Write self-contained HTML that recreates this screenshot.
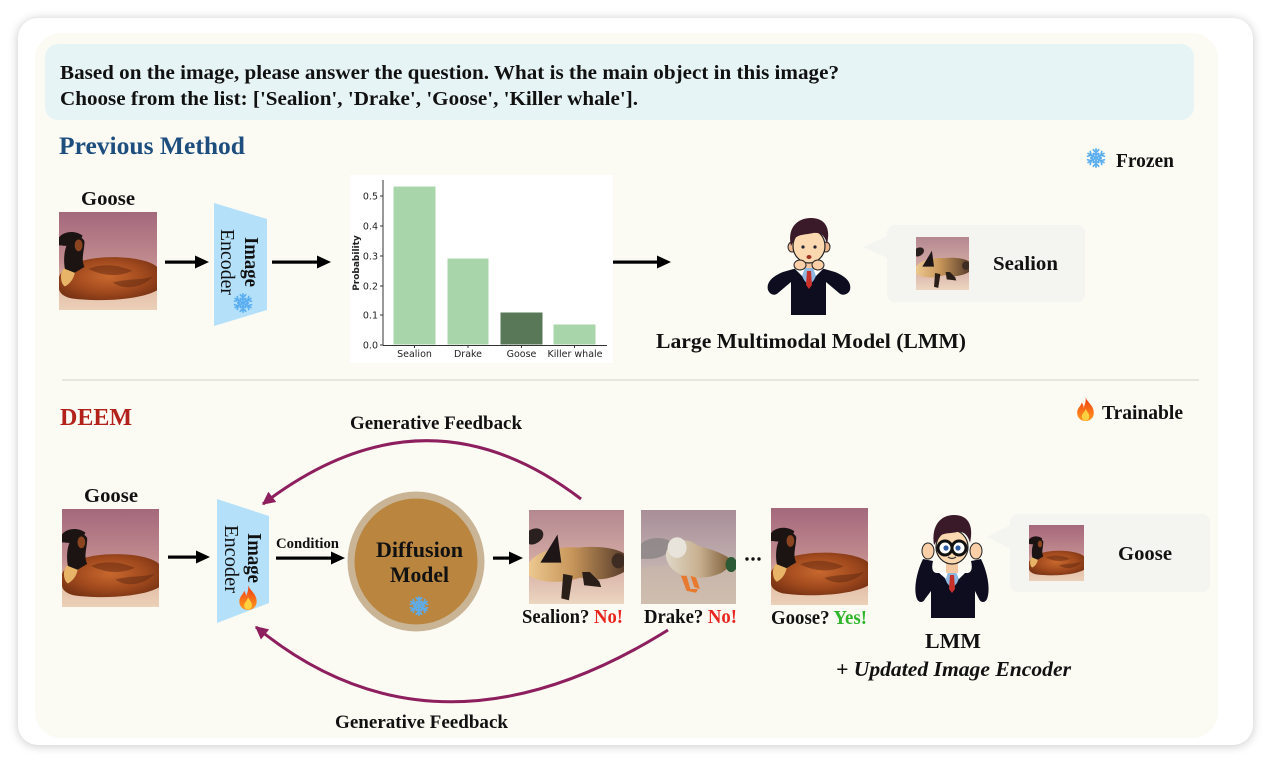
<!DOCTYPE html>
<html><head><meta charset="utf-8"><style>
html,body{margin:0;padding:0;background:#fff;}
body{width:1271px;height:763px;overflow:hidden;position:relative;}
.card{position:absolute;left:18px;top:18px;width:1235px;height:727px;background:#fff;border-radius:20px;box-shadow:0 1px 10px rgba(0,0,0,0.22);}
.cream{position:absolute;left:35px;top:33px;width:1183px;height:705px;background:#fbfbf4;border-radius:26px;}
svg{position:absolute;left:0;top:0;}
.t{font-family:"Liberation Serif",serif;font-weight:bold;fill:#111;}
.c{font-family:"DejaVu Sans",sans-serif;fill:#222;}
</style></head><body>
<div class="card"></div>
<div class="cream"></div>
<svg width="1271" height="763" viewBox="0 0 1271 763" xmlns="http://www.w3.org/2000/svg">
<defs>
  <linearGradient id="gbg" x1="0" y1="0" x2="0" y2="1">
    <stop offset="0" stop-color="#a4687c"/><stop offset="0.5" stop-color="#c08a8e"/><stop offset="0.75" stop-color="#e2bca6"/><stop offset="1" stop-color="#ecd0b8"/>
  </linearGradient>
  <radialGradient id="gbody" cx="0.5" cy="0.45" r="0.6">
    <stop offset="0" stop-color="#c8682e"/><stop offset="0.6" stop-color="#a24a1e"/><stop offset="1" stop-color="#7a3414"/>
  </radialGradient>
  <linearGradient id="sbg" x1="0" y1="0" x2="0" y2="1">
    <stop offset="0" stop-color="#b48890"/><stop offset="0.55" stop-color="#d4aaa4"/><stop offset="1" stop-color="#ecd6c0"/>
  </linearGradient>
  <linearGradient id="sbody" x1="0" y1="0" x2="1" y2="0">
    <stop offset="0" stop-color="#ecc890"/><stop offset="0.45" stop-color="#c8965a"/><stop offset="1" stop-color="#5a3e2c"/>
  </linearGradient>
  <linearGradient id="dbg" x1="0" y1="0" x2="0" y2="1">
    <stop offset="0" stop-color="#a88e98"/><stop offset="0.55" stop-color="#c0aeae"/><stop offset="1" stop-color="#d8c8b8"/>
  </linearGradient>
  <linearGradient id="dbody" x1="0" y1="0" x2="1" y2="0">
    <stop offset="0" stop-color="#e0d8c8"/><stop offset="0.5" stop-color="#c8b090"/><stop offset="1" stop-color="#7a5a34"/>
  </linearGradient>
  <linearGradient id="fire" x1="0" y1="0" x2="0" y2="1">
    <stop offset="0" stop-color="#f03a10"/><stop offset="1" stop-color="#ff9a20"/>
  </linearGradient>

  <symbol id="goose" viewBox="0 0 100 100" preserveAspectRatio="none">
    <rect width="100" height="100" fill="url(#gbg)"/>
    <path d="M0 66 C6 52 30 46 55 46 C75 46 94 50 100 56 L100 80 C82 90 40 92 12 88 C4 86 0 82 0 78 Z" fill="url(#gbody)"/>
    <path d="M30 58 C45 52 60 54 75 60 C62 66 46 66 30 58 Z" fill="#6a2c10" opacity="0.55"/>
    <path d="M55 72 C68 68 82 70 96 66 C84 78 66 80 55 72 Z" fill="#5e2810" opacity="0.5"/>
    <path d="M2 66 C2 58 8 54 16 54 C18 62 14 72 6 76 C3 74 2 70 2 66 Z" fill="#e8b468"/>
    <path d="M6 58 C4 46 6 36 10 30 C14 24 24 24 26 30 C26 40 22 48 26 56 L16 62 Z" fill="#1c1412"/>
    <path d="M0 26 C4 20 16 18 24 24 C22 32 12 36 2 34 L0 34 Z" fill="#1c1412"/>
    <ellipse cx="20" cy="34" rx="4" ry="6" fill="#8a4420"/>
  </symbol>

  <symbol id="sealion" viewBox="0 0 100 100" preserveAspectRatio="none">
    <rect width="100" height="100" fill="url(#sbg)"/>
    <path d="M0 56 C8 44 30 38 52 40 C72 38 90 40 100 46 L100 66 C86 74 70 76 54 72 C36 78 16 78 4 72 L0 70 Z" fill="url(#sbody)"/>
    <path d="M0 22 C10 16 18 22 14 30 C10 36 2 38 0 36 Z" fill="#2a2020"/>
    <path d="M12 56 L30 26 L34 56 Z" fill="#1e1616"/>
    <path d="M36 68 L34 94 L42 96 L46 70 Z" fill="#2a1e18"/>
    <path d="M56 66 L58 80 L76 82 L74 76 L64 66 Z" fill="#2a1e18"/>
    <ellipse cx="94" cy="54" rx="7" ry="8" fill="#3e2c22"/>
  </symbol>

  <symbol id="drake" viewBox="0 0 100 100" preserveAspectRatio="none">
    <rect width="100" height="100" fill="url(#dbg)"/>
    <path d="M0 62 C20 58 60 58 100 64 L100 100 L0 100 Z" fill="#cab8a8" opacity="0.6"/>
    <path d="M0 36 C8 28 24 28 32 34 C34 46 20 52 8 52 L0 52 Z" fill="#8a8484" opacity="0.8"/>
    <path d="M26 48 C28 30 48 28 60 38 C74 42 88 46 96 54 C92 66 78 72 60 72 C42 72 28 64 26 48 Z" fill="url(#dbody)"/>
    <ellipse cx="38" cy="40" rx="10" ry="11" fill="#e8e4dc"/>
    <ellipse cx="95" cy="58" rx="6" ry="8" fill="#2c5a34"/>
    <path d="M42 70 L48 86 L58 88 L60 84 L52 84 L48 70 Z" fill="#e87a30"/>
    <path d="M52 70 L56 82 L62 84 L58 72 Z" fill="#e87a30"/>
  </symbol>

  <symbol id="snow" viewBox="-12 -12 24 24">
    <g stroke="#5aaef0" stroke-width="1.8" fill="none" stroke-linecap="round">
      <g id="arm"><line x1="0" y1="0" x2="0" y2="-10"/><polyline points="-3,-9 0,-6 3,-9"/><polyline points="-2.5,-5 0,-3 2.5,-5"/></g>
      <use href="#arm" transform="rotate(60)"/><use href="#arm" transform="rotate(120)"/><use href="#arm" transform="rotate(180)"/><use href="#arm" transform="rotate(240)"/><use href="#arm" transform="rotate(300)"/>
    </g>
  </symbol>

  <symbol id="flame" viewBox="0 0 20 26">
    <path d="M10 0 C12 6 19 9 19 17 C19 22.5 15 26 10 26 C5 26 1 22.5 1 17 C1 12 5 10 6 6 C8 9 8 11 8 12 C9 8 11 5 10 0 Z" fill="url(#fire)"/>
    <path d="M10 13 C12 16 14 18 14 21 C14 24 12 25.5 10 25.5 C8 25.5 6 24 6 21 C6 18 9 17 10 13 Z" fill="#ffd040"/>
  </symbol>

  <marker id="pa" viewBox="0 0 10 10" refX="9" refY="5" markerUnits="userSpaceOnUse" markerWidth="14" markerHeight="13" orient="auto">
    <path d="M0 0 L10 5 L0 10 Z" fill="#8e1f5e"/>
  </marker>
</defs>

<!-- question box -->
<rect x="45" y="44" width="1149" height="76" rx="13" fill="#e7f4f5"/>
<text class="t" x="60" y="79" font-size="19.5" textLength="779" lengthAdjust="spacingAndGlyphs">Based on the image, please answer the question. What is the main object in this image?</text>
<text class="t" x="60" y="105" font-size="19.5" textLength="578" lengthAdjust="spacingAndGlyphs">Choose from the list: ['Sealion', 'Drake', 'Goose', 'Killer whale'].</text>

<!-- Previous Method -->
<text class="t" x="59" y="154" font-size="25" style="fill:#1d4e7e" textLength="186" lengthAdjust="spacingAndGlyphs">Previous Method</text>
<use href="#snow" x="1085" y="147" width="22" height="22"/>
<text class="t" x="1116" y="167" font-size="20" textLength="58" lengthAdjust="spacingAndGlyphs">Frozen</text>

<text class="t" x="81" y="205" font-size="20" textLength="54" lengthAdjust="spacingAndGlyphs">Goose</text>
<use href="#goose" x="59" y="212" width="98" height="98"/>

<!-- arrows top -->
<g fill="#000">
  <rect x="165" y="260.5" width="32" height="3.2"/><polygon points="195,255.5 209,262 195,268.5"/>
  <rect x="272" y="260.5" width="47" height="3.2"/><polygon points="317,255.5 331,262 317,268.5"/>
  <rect x="611" y="260.5" width="48" height="3.2"/><polygon points="657,255.5 671,262 657,268.5"/>
</g>

<!-- encoder 1 -->
<polygon points="214,203 267,219 267,310 214,326" fill="#b4e0fa"/>
<text class="t" font-size="20" transform="translate(245,237) rotate(90)" textLength="50" lengthAdjust="spacingAndGlyphs">Image</text>
<text class="t" style="font-weight:normal" font-size="20" transform="translate(221,229) rotate(90)" textLength="66" lengthAdjust="spacingAndGlyphs">Encoder</text>
<use href="#snow" x="232" y="292" width="22" height="22"/>

<!-- chart -->
<rect x="350" y="175" width="263" height="188" fill="#ffffff"/>
<g stroke="#ffffff" stroke-width="1">
<rect x="393" y="186" width="43" height="159" fill="#a8d5a9"/>
<rect x="447" y="258" width="42" height="87" fill="#a8d5a9"/>
<rect x="500" y="312" width="43" height="33" fill="#587858"/>
<rect x="553" y="324" width="43" height="21" fill="#a8d5a9"/>
</g>
<g stroke="#333" stroke-width="1">
  <line x1="383" y1="180" x2="383" y2="345.5"/>
  <line x1="383" y1="345.5" x2="607" y2="345.5"/>
  <line x1="380" y1="345" x2="383" y2="345"/><line x1="380" y1="315" x2="383" y2="315"/><line x1="380" y1="286" x2="383" y2="286"/><line x1="380" y1="256" x2="383" y2="256"/><line x1="380" y1="226" x2="383" y2="226"/><line x1="380" y1="196" x2="383" y2="196"/>
  <line x1="414.5" y1="345" x2="414.5" y2="348"/><line x1="468" y1="345" x2="468" y2="348"/><line x1="521.5" y1="345" x2="521.5" y2="348"/><line x1="574.5" y1="345" x2="574.5" y2="348"/>
</g>
<g class="c" font-size="9.5" text-anchor="end">
  <text x="378" y="348.5">0.0</text><text x="378" y="318.5">0.1</text><text x="378" y="289.5">0.2</text><text x="378" y="259.5">0.3</text><text x="378" y="229.5">0.4</text><text x="378" y="199.5">0.5</text>
</g>
<text class="c" font-size="9" font-weight="bold" text-anchor="middle" transform="translate(359,263) rotate(-90)">Probability</text>
<g class="c" font-size="9.5" text-anchor="middle">
  <text x="414.5" y="357">Sealion</text><text x="468" y="357">Drake</text><text x="521.5" y="357">Goose</text><text x="575" y="357">Killer whale</text>
</g>

<!-- person 1 -->
<g transform="translate(767,218)">
  <path d="M1 72 C-1 64 6 58 16 54 L30 50 L54 50 L68 54 C78 58 85 64 83 72 C81 77 75 78 72 75 L59 64 L59 97 L24 97 L24 64 L11 75 C8 78 3 77 1 72 Z" fill="#0d0d1f"/>
  <rect x="36" y="40" width="12" height="12" fill="#f4c8a0"/>
  <path d="M31 50 L53 50 L47 62 L42 68 L37 62 Z" fill="#8fb8e0"/>
  <path d="M27 50 L38 50 L35 58 Z" fill="#fff"/><path d="M46 50 L57 50 L49 58 Z" fill="#fff"/>
  <path d="M40 53 L44 53 L45 67 L42 71 L39 67 Z" fill="#c8302a"/>
  <ellipse cx="25" cy="29" rx="4" ry="5" fill="#f0b890" stroke="#222" stroke-width="1"/>
  <ellipse cx="59" cy="29" rx="4" ry="5" fill="#f0b890" stroke="#222" stroke-width="1"/>
  <ellipse cx="42" cy="28" rx="16" ry="17" fill="#fbd8b0" stroke="#222" stroke-width="1.2"/>
  <path d="M24 28 C20 10 30 0 44 0 C58 0 64 10 60 26 C58 18 54 14 46 15 C38 17 30 16 27 22 Z" fill="#3a1a28"/>
  <circle cx="36" cy="29" r="1.6" fill="#223"/><circle cx="48" cy="29" r="1.6" fill="#223"/>
  <ellipse cx="42" cy="39" rx="2.5" ry="2" fill="#a03020"/>
  <ellipse cx="33" cy="47" rx="6" ry="5" fill="#fbd0a8" stroke="#222" stroke-width="1"/>
  <ellipse cx="51" cy="47" rx="6" ry="5" fill="#fbd0a8" stroke="#222" stroke-width="1"/>
</g>
<text class="t" x="656" y="348" font-size="21" textLength="310" lengthAdjust="spacingAndGlyphs">Large Multimodal Model (LMM)</text>

<!-- bubble 1 -->
<polygon points="863,247 888,236 888,258" fill="#f4f4f0"/>
<rect x="887" y="225" width="198" height="77" rx="8" fill="#f4f4f0"/>
<use href="#sealion" x="916" y="237" width="53" height="53"/>
<text class="t" x="993" y="270" font-size="20" textLength="65" lengthAdjust="spacingAndGlyphs">Sealion</text>

<!-- divider -->
<rect x="62" y="379" width="1137" height="2" fill="#e6e6e1"/>

<!-- DEEM -->
<text class="t" x="60" y="425" font-size="24.5" style="fill:#b3221a" textLength="72" lengthAdjust="spacingAndGlyphs">DEEM</text>
<use href="#flame" x="1076" y="397" width="19" height="24"/>
<text class="t" x="1102" y="419" font-size="20" textLength="81" lengthAdjust="spacingAndGlyphs">Trainable</text>

<text class="t" x="350" y="429" font-size="18.5" textLength="172" lengthAdjust="spacingAndGlyphs">Generative Feedback</text>
<text class="t" x="335" y="728" font-size="18.5" textLength="173" lengthAdjust="spacingAndGlyphs">Generative Feedback</text>

<!-- purple arcs -->
<path d="M581 499 Q425 380 263 504" fill="none" stroke="#8e1f5e" stroke-width="3" marker-end="url(#pa)"/>
<path d="M668 630 Q436 775 256 627" fill="none" stroke="#8e1f5e" stroke-width="3" marker-end="url(#pa)"/>

<text class="t" x="84" y="502" font-size="20" textLength="54" lengthAdjust="spacingAndGlyphs">Goose</text>
<use href="#goose" x="62" y="509" width="97" height="98"/>

<g fill="#000">
  <rect x="168" y="555.5" width="30" height="3.2"/><polygon points="196,550.5 210,557 196,563.5"/>
  <rect x="276" y="556.5" width="57" height="3.2"/><polygon points="331,551.5 345,558 331,564.5"/>
  <rect x="493" y="556.5" width="18" height="3.2"/><polygon points="509,551.5 523,558 509,564.5"/>
</g>

<!-- encoder 2 -->
<polygon points="217,499 269,516 269,603 217,623" fill="#b4e0fa"/>
<text class="t" font-size="20" transform="translate(248,533) rotate(90)" textLength="50" lengthAdjust="spacingAndGlyphs">Image</text>
<text class="t" style="font-weight:normal" font-size="20" transform="translate(225,525) rotate(90)" textLength="68" lengthAdjust="spacingAndGlyphs">Encoder</text>
<use href="#flame" x="238" y="585" width="20" height="25"/>

<text class="t" x="276" y="548" font-size="14.5" textLength="63" lengthAdjust="spacingAndGlyphs">Condition</text>

<!-- diffusion -->
<ellipse cx="416" cy="561.5" rx="68.5" ry="70" fill="#c9b596"/>
<ellipse cx="416" cy="561.5" rx="61.5" ry="63" fill="#b9853f"/>
<text class="t" x="376" y="557" font-size="22" textLength="87" lengthAdjust="spacingAndGlyphs">Diffusion</text>
<text class="t" x="390" y="582" font-size="22" textLength="59" lengthAdjust="spacingAndGlyphs">Model</text>
<use href="#snow" x="408" y="595" width="22" height="22"/>

<!-- generated images -->
<use href="#sealion" x="529" y="510" width="95" height="94"/>
<use href="#drake" x="641" y="510" width="95" height="94"/>
<use href="#goose" x="771" y="508" width="97" height="97"/>
<circle cx="747" cy="559" r="1.7" fill="#111"/><circle cx="753" cy="559" r="1.7" fill="#111"/><circle cx="759" cy="559" r="1.7" fill="#111"/>

<text class="t" x="522" y="623" font-size="20" textLength="101" lengthAdjust="spacingAndGlyphs">Sealion? <tspan style="fill:#e8261e">No!</tspan></text>
<text class="t" x="644" y="623" font-size="20" textLength="93" lengthAdjust="spacingAndGlyphs">Drake? <tspan style="fill:#e8261e">No!</tspan></text>
<text class="t" x="771" y="624" font-size="20" textLength="96" lengthAdjust="spacingAndGlyphs">Goose? <tspan style="fill:#2eb52a">Yes!</tspan></text>

<!-- person 2 -->
<g transform="translate(913,515)">
  <path d="M4 84 C0 74 4 56 10 44 L20 46 C18 54 20 58 24 58 L54 58 C58 58 60 54 58 46 L68 44 C74 56 78 74 74 84 C72 88 68 88 66 84 L62 76 L62 103 L18 103 L18 76 L12 84 C10 88 6 88 4 84 Z" fill="#0d0d1f"/>
  <path d="M29 57 L49 57 L44 68 L39 74 L34 68 Z" fill="#8fb8e0"/>
  <path d="M25 57 L35 57 L33 64 Z" fill="#fff"/><path d="M43 57 L53 57 L46 64 Z" fill="#fff"/>
  <path d="M37 60 L41 60 L42 74 L39 78 L36 74 Z" fill="#c8302a"/>
  <rect x="33" y="46" width="12" height="12" fill="#f4c8a0"/>
  <ellipse cx="39" cy="32" rx="16" ry="17" fill="#fbd8b0" stroke="#222" stroke-width="1.2"/>
  <path d="M21 30 C18 10 28 0 41 0 C55 0 61 10 57 28 C55 20 51 16 44 17 C36 19 28 17 25 24 Z" fill="#3a1a28"/>
  <circle cx="32" cy="33" r="7" fill="#fff" stroke="#111" stroke-width="3"/>
  <circle cx="46" cy="33" r="7" fill="#fff" stroke="#111" stroke-width="3"/>
  <circle cx="33" cy="33" r="2.6" fill="#2a5aa0"/><circle cx="45" cy="33" r="2.6" fill="#2a5aa0"/>
  <path d="M35 42 Q39 45 43 42" stroke="#333" stroke-width="1.2" fill="none"/>
  <ellipse cx="15" cy="36" rx="6" ry="8" fill="#fbd0a8" stroke="#222" stroke-width="1"/>
  <ellipse cx="63" cy="36" rx="6" ry="8" fill="#fbd0a8" stroke="#222" stroke-width="1"/>
</g>
<text class="t" x="925" y="648" font-size="21" textLength="56" lengthAdjust="spacingAndGlyphs">LMM</text>
<text class="t" x="836" y="676" font-size="21" font-style="italic" textLength="235" lengthAdjust="spacingAndGlyphs">+ Updated Image Encoder</text>

<!-- bubble 2 -->
<polygon points="987,537 1011,525 1011,549" fill="#f4f4f0"/>
<rect x="1010" y="514" width="200" height="78" rx="8" fill="#f4f4f0"/>
<use href="#goose" x="1029" y="525" width="55" height="56"/>
<text class="t" x="1118" y="560" font-size="20" textLength="54" lengthAdjust="spacingAndGlyphs">Goose</text>
</svg>
</body></html>
